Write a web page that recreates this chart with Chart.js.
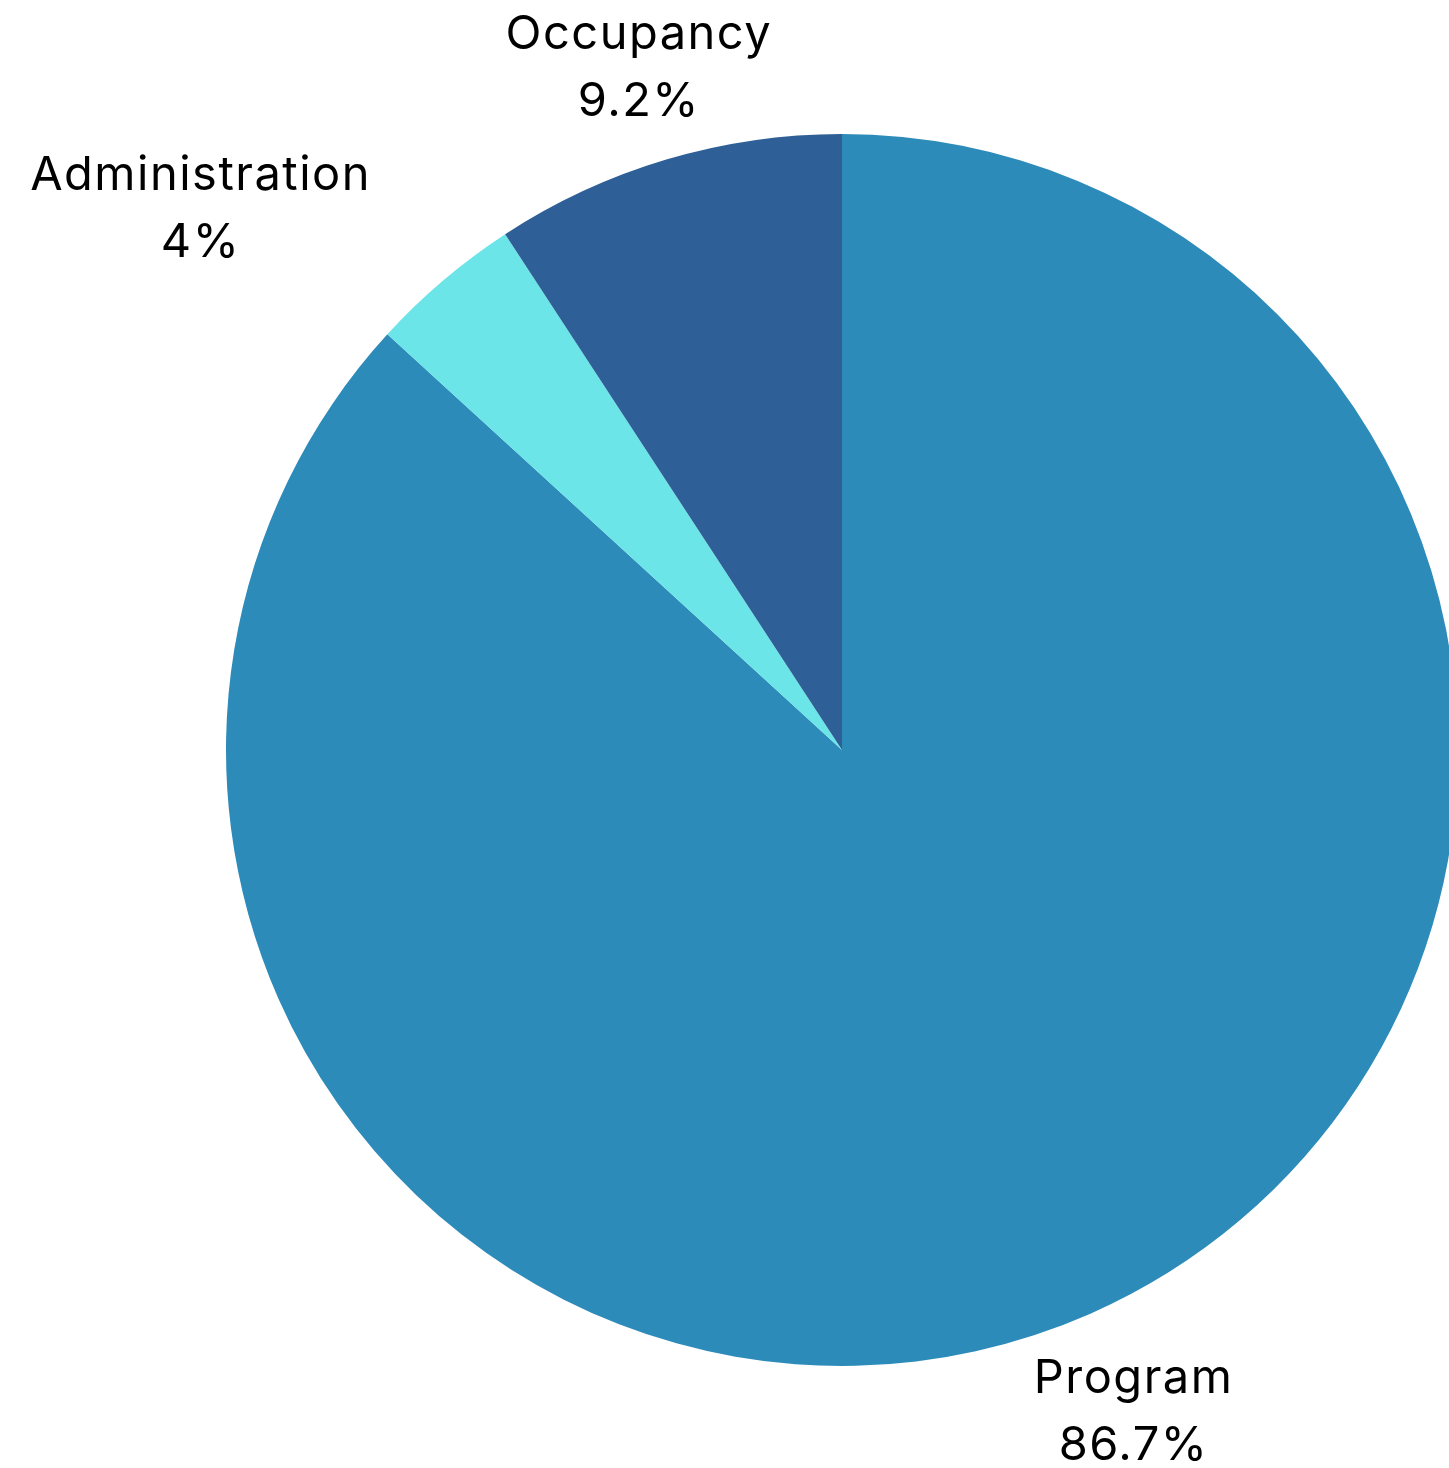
<!DOCTYPE html>
<html>
<head>
<meta charset="utf-8">
<script src="https://cdn.jsdelivr.net/npm/chart.js@4"></script>
<style>
html,body{margin:0;padding:0;background:#fff;overflow:hidden;width:1449px;height:1468px;}
canvas{display:block;}
</style>
</head>
<body>
<canvas id="c" width="1500" height="1468"></canvas>
<script>
const categories = ["Program", "Administration", "Occupancy"];
const values = [86.7, 4, 9.2];
const valueLabels = ["86.7%", "4%", "9.2%"];
const colors = ["#2D8BBA", "#6BE5E8", "#2E5F96"];
// label placement style: extra distance beyond the arc, and angle nudge (degrees)
const labelDist = [107, 223, 96];
const labelNudge = [0, -9.5, 0];

const labelPlugin = {
  id: 'outLabels',
  afterDatasetsDraw(chart) {
    const ctx = chart.ctx;
    const meta = chart.getDatasetMeta(0);
    ctx.save();
    ctx.font = '47px "Inter", "Open Sans", sans-serif';
    if ('letterSpacing' in ctx) ctx.letterSpacing = '1.5px';
    ctx.fillStyle = '#000';
    ctx.textAlign = 'center';
    ctx.textBaseline = 'middle';
    meta.data.forEach((arc, i) => {
      const p = arc.getProps(['x','y','startAngle','endAngle','outerRadius'], true);
      const mid = (p.startAngle + p.endAngle) / 2 + labelNudge[i] * Math.PI / 180;
      const r = p.outerRadius + labelDist[i];
      const x = p.x + Math.cos(mid) * r;
      const y = p.y + Math.sin(mid) * r;
      ctx.fillText(categories[i], x, y - 33);
      ctx.fillText(valueLabels[i], x, y + 34);
    });
    ctx.restore();
  }
};

new Chart(document.getElementById('c'), {
  type: 'pie',
  data: {
    labels: categories,
    datasets: [{
      data: values,
      backgroundColor: colors,
      borderWidth: 0
    }]
  },
  options: {
    responsive: false,
    animation: false,
    layout: { padding: { left: 226, right: 42, top: 134, bottom: 102 } },
    plugins: { legend: { display: false }, tooltip: { enabled: false } }
  },
  plugins: [labelPlugin]
});
</script>
</body>
</html>
